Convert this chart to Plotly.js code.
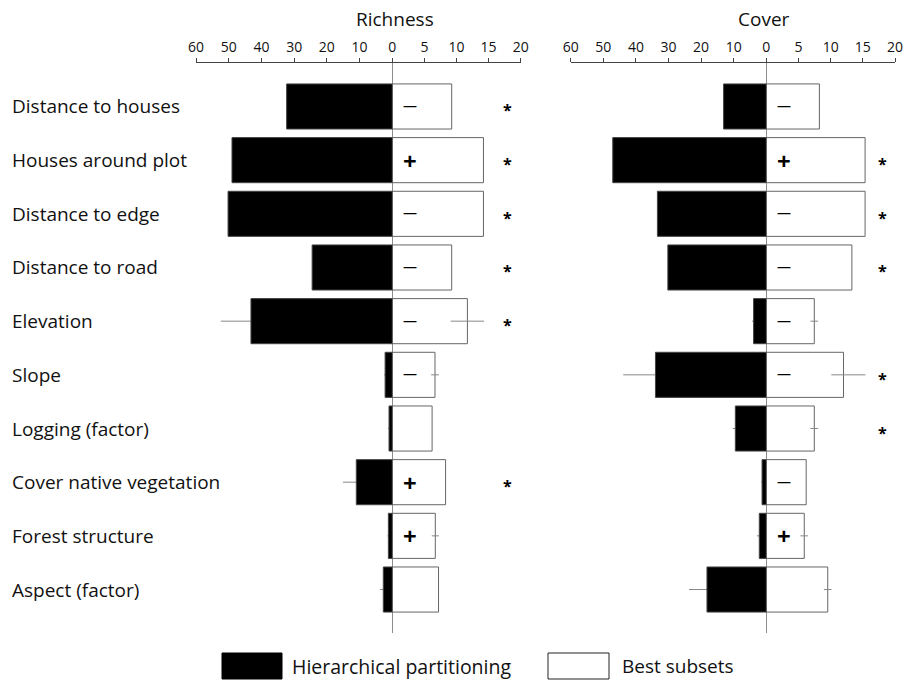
<!DOCTYPE html>
<html>
<head>
<meta charset="utf-8">
<script src="https://cdn.plot.ly/plotly-3.0.1.min.js"></script>
<style>html,body{margin:0;padding:0;background:#fff;}#chart{width:905px;height:680px;}</style>
</head>
<body>
<div id="chart"></div>
<script>
// ---------- data ----------
const categories = ["Distance to houses","Houses around plot","Distance to edge","Distance to road","Elevation","Slope","Logging (factor)","Cover native vegetation","Forest structure","Aspect (factor)"];

// Richness
const richHP      = [32.3, 49.0, 50.2, 24.5, 43.2, 2.2, 1.0, 11.0, 1.2, 2.75];
const richHPerr   = [0, 0, 0, 0, 9.2, 0.3, 0.3, 4.1, 0.3, 1.0];
const richBS      = [9.25, 14.2, 14.2, 9.25, 11.7, 6.65, 6.2, 8.3, 6.7, 7.2];
const richBSerr   = [0, 0, 0, 0, 2.6, 0.6, 0, 0, 0.55, 0];
const richSign    = ["–","+","–","–","–","–","","+","+",""];
const richSig     = [1, 1, 1, 1, 1, 0, 0, 1, 0, 0];

// Cover
const coverHP       = [13.1, 47.1, 33.4, 30.2, 3.9, 34.0, 9.5, 1.3, 2.15, 18.2];
const coverHPerr    = [0, 0, 0, 0, 0.5, 9.9, 0.8, 0.3, 0.7, 5.5];
const coverBS       = [8.25, 15.35, 15.35, 13.3, 7.46, 12.0, 7.46, 6.2, 5.9, 9.55];
const coverBSerrUp  = [0, 0, 0, 0, 0.6, 3.4, 0.6, 0, 0.6, 0.6];
const coverBSerrDn  = [0, 0, 0, 0, 0.6, 1.9, 0.6, 0, 0.6, 0.6];
const coverSign     = ["–","+","–","–","–","–","","–","+",""];
const coverSig      = [0, 1, 1, 1, 0, 1, 1, 0, 0, 0];

const hpTicks = [60, 50, 40, 30, 20, 10, 0];
const bsTicks = [5, 10, 15, 20];
const panelTitles = ["Richness", "Cover"];
const legendNames = ["Hierarchical partitioning", "Best subsets"];

// ---------- layout helpers ----------
const W = 905, H = 680, TOP = 63, BOT = 633;
const px = x => x / W;
const py = y => (BOT - y) / (BOT - TOP);
const FONT = "Open Sans, Noto Sans, sans-serif";
const BARW = 0.84;
const errStyle = {color: "#888", thickness: 1, width: 0};

// error bars of the HP bars sit underneath the black bars (only the outside part shows)
function hpErrTrace(vals, errs, xa, ya) {
  return {type: "bar", orientation: "h", y: categories, x: vals, xaxis: xa, yaxis: ya,
    width: BARW, marker: {color: "rgba(0,0,0,0)", line: {width: 0}},
    error_x: Object.assign({type: "data", array: errs, visible: true}, errStyle),
    hoverinfo: "skip", showlegend: false};
}
function hpTrace(vals, xa, ya) {
  return {type: "bar", orientation: "h", y: categories, x: vals, xaxis: xa, yaxis: ya,
    width: BARW, marker: {color: "#000", line: {color: "#444", width: 1}},
    hoverinfo: "x+y", showlegend: false};
}
function bsTrace(vals, up, dn, xa, ya) {
  return {type: "bar", orientation: "h", y: categories, x: vals, xaxis: xa, yaxis: ya,
    width: BARW, marker: {color: "#fff", line: {color: "#666", width: 1}},
    error_x: Object.assign({type: "data", array: up, arrayminus: dn, symmetric: false, visible: true}, errStyle),
    hoverinfo: "x+y", showlegend: false};
}

const data = [
  hpErrTrace(richHP, richHPerr, "x", "y"),
  hpTrace(richHP, "x", "y"),
  bsTrace(richBS, richBSerr, richBSerr, "x2", "y"),
  hpErrTrace(coverHP, coverHPerr, "x3", "y2"),
  hpTrace(coverHP, "x3", "y2"),
  bsTrace(coverBS, coverBSerrUp, coverBSerrDn, "x4", "y2")
];

function hpAxis(d0, d1, anchor) {
  return {domain: [px(d0), px(d1)], range: [60, 0], autorange: false, side: "top", anchor: anchor,
    tickmode: "array", tickvals: hpTicks, ticktext: hpTicks.map(String),
    showline: true, linecolor: "#444", linewidth: 1, ticks: "outside", ticklen: 4, tickcolor: "#444",
    showgrid: false, zeroline: false, fixedrange: true,
    tickfont: {family: FONT, size: 14, color: "#111"}};
}
function bsAxis(d0, d1, anchor) {
  return {domain: [px(d0), px(d1)], range: [0, 20], autorange: false, side: "top", anchor: anchor,
    tickmode: "array", tickvals: bsTicks, ticktext: bsTicks.map(String),
    showline: true, linecolor: "#444", linewidth: 1, ticks: "outside", ticklen: 4, tickcolor: "#444",
    showgrid: false, zeroline: false, fixedrange: true,
    tickfont: {family: FONT, size: 14, color: "#111"}};
}
function yAxis(anchor) {
  return {domain: [0, 1], anchor: anchor, type: "category", categoryorder: "array", categoryarray: categories,
    range: [categories.length - 1 + 0.81, -0.81], autorange: false,
    showticklabels: false, showgrid: false, zeroline: false, showline: false, ticks: "", fixedrange: true};
}

const annotations = [];
// category labels
categories.forEach((c, i) => {
  annotations.push({xref: "paper", yref: "y", x: px(10), y: c, text: c, showarrow: false,
    xanchor: "left", yanchor: "middle", font: {family: FONT, size: 19, color: "#111"}});
});
// signs & significance
function addMarks(signs, sigs, xa, ya) {
  categories.forEach((c, i) => {
    if (signs[i] === "+") annotations.push({xref: xa, yref: ya, x: 2.7, y: c,
      text: "<b>+</b>", showarrow: false, xanchor: "center", yanchor: "middle",
      font: {family: FONT, size: 24, color: "#000"}});
    else if (signs[i]) annotations.push({xref: xa, yref: ya, x: 2.7, y: c,
      text: "—", showarrow: false, xanchor: "center", yanchor: "middle", yshift: 1,
      font: {family: FONT, size: 14, color: "#000"}});
    if (sigs[i]) annotations.push({xref: xa, yref: ya, x: 18, y: c, text: "<b>*</b>", showarrow: false,
      xanchor: "center", yanchor: "middle", yshift: -4, font: {family: FONT, size: 16, color: "#000"}});
  });
}
addMarks(richSign, richSig, "x2", "y");
addMarks(coverSign, coverSig, "x4", "y2");
// panel titles
annotations.push({xref: "paper", yref: "paper", x: px(395), y: py(19), text: panelTitles[0], showarrow: false,
  xanchor: "center", yanchor: "middle", font: {family: FONT, size: 19, color: "#111"}});
annotations.push({xref: "paper", yref: "paper", x: px(764), y: py(19), text: panelTitles[1], showarrow: false,
  xanchor: "center", yanchor: "middle", font: {family: FONT, size: 19, color: "#111"}});
// legend text
annotations.push({xref: "paper", yref: "paper", x: px(290), y: py(666), text: legendNames[0], showarrow: false,
  xanchor: "left", yanchor: "middle", font: {family: FONT, size: 19.5, color: "#111"}});
annotations.push({xref: "paper", yref: "paper", x: px(620), y: py(666), text: legendNames[1], showarrow: false,
  xanchor: "left", yanchor: "middle", font: {family: FONT, size: 19, color: "#111"}});

const shapes = [
  {type: "line", xref: "x2", yref: "paper", x0: 0, x1: 0, y0: 0, y1: 1, line: {color: "#333", width: 1}},
  {type: "line", xref: "x4", yref: "paper", x0: 0, x1: 0, y0: 0, y1: 1, line: {color: "#333", width: 1}},
  {type: "rect", xref: "paper", yref: "paper", x0: px(222), x1: px(282), y0: py(653), y1: py(679),
    fillcolor: "#000", line: {color: "#000", width: 1}},
  {type: "rect", xref: "paper", yref: "paper", x0: px(548), x1: px(609), y0: py(653), y1: py(679),
    fillcolor: "#fff", line: {color: "#222", width: 1}}
];

const layout = {
  width: W, height: H,
  margin: {l: 0, r: 0, t: TOP, b: H - BOT, pad: 0},
  paper_bgcolor: "#fff", plot_bgcolor: "rgba(0,0,0,0)",
  barmode: "overlay",
  showlegend: false,
  xaxis: hpAxis(196, 392.3, "y"),
  xaxis2: bsAxis(392.3, 520.7, "y"),
  xaxis3: hpAxis(570.7, 766.3, "y2"),
  xaxis4: bsAxis(766.3, 895, "y2"),
  yaxis: yAxis("x"),
  yaxis2: yAxis("x3"),
  annotations: annotations,
  shapes: shapes
};

Plotly.newPlot("chart", data, layout, {displayModeBar: false, staticPlot: true});
</script>
</body>
</html>
